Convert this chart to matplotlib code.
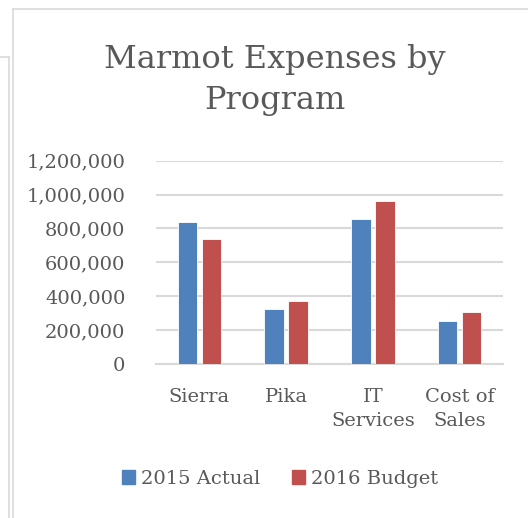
import matplotlib.pyplot as plt
import numpy as np
from matplotlib.lines import Line2D
from matplotlib.patches import Patch

categories = ["Sierra", "Pika", "IT\nServices", "Cost of\nSales"]
actual_2015 = [840000, 326000, 853000, 255000]
budget_2016 = [735000, 372000, 962000, 305000]
series_names = ["2015 Actual", "2016 Budget"]
y_ticks = [0, 200000, 400000, 600000, 800000, 1000000, 1200000]

BLUE = "#4f81bd"
RED = "#c0504d"
TEXT = "#595959"
GRID = "#d9d9d9"

plt.rcParams["font.family"] = ["DejaVu Serif"]

fig = plt.figure(figsize=(5.28, 5.18), dpi=100)
ax = fig.add_axes([0.2955, 0.2973, 0.6572, 0.3925])

x = np.arange(len(categories))
width = 0.225
ax.bar(x - 0.1375, actual_2015, width, color=BLUE, edgecolor="white", linewidth=0.6, zorder=3)
ax.bar(x + 0.1375, budget_2016, width, color=RED, edgecolor="white", linewidth=0.6, zorder=3)

ax.set_xlim(-0.5, len(categories) - 0.5)
ax.set_ylim(0, 1200000)
ax.set_yticks(y_ticks)
ax.set_yticklabels([f"{v:,}" for v in y_ticks])
ax.set_xticks(x)
ax.set_xticklabels(categories, linespacing=1.45)
ax.yaxis.grid(True, color=GRID, linewidth=1.5, zorder=0)
for side in ["top", "right", "left"]:
    ax.spines[side].set_visible(False)
ax.spines["bottom"].set_color(GRID)
ax.spines["bottom"].set_linewidth(1.5)
ax.tick_params(axis="both", length=0, labelsize=14, colors=TEXT)
ax.tick_params(axis="y", pad=22)
ax.tick_params(axis="x", pad=17)

fig.text(275 / 528, 1 - 80 / 518, "Marmot Expenses by\nProgram", ha="center", va="center",
         fontsize=23, color=TEXT, linespacing=1.43)

handles = [Patch(color=BLUE), Patch(color=RED)]
fig.legend(handles, series_names, loc="center", bbox_to_anchor=(280 / 528, 1 - 479 / 518),
           ncol=2, frameon=False, fontsize=14, handlelength=0.7, handleheight=0.7,
           handletextpad=0.3, columnspacing=1.6, labelcolor=TEXT)

# chart frames
fig.add_artist(Line2D([13 / 528, 13 / 528], [0, 1 - 9 / 518], color=GRID, linewidth=1.2))
fig.add_artist(Line2D([13 / 528, 1], [1 - 9 / 518, 1 - 9 / 518], color=GRID, linewidth=1.2))
fig.add_artist(Line2D([9 / 528, 9 / 528], [0, 1 - 57 / 518], color=GRID, linewidth=1.2))
fig.add_artist(Line2D([0, 9 / 528], [1 - 57 / 518, 1 - 57 / 518], color=GRID, linewidth=1.2))

fig.savefig("out.png", dpi=100)
